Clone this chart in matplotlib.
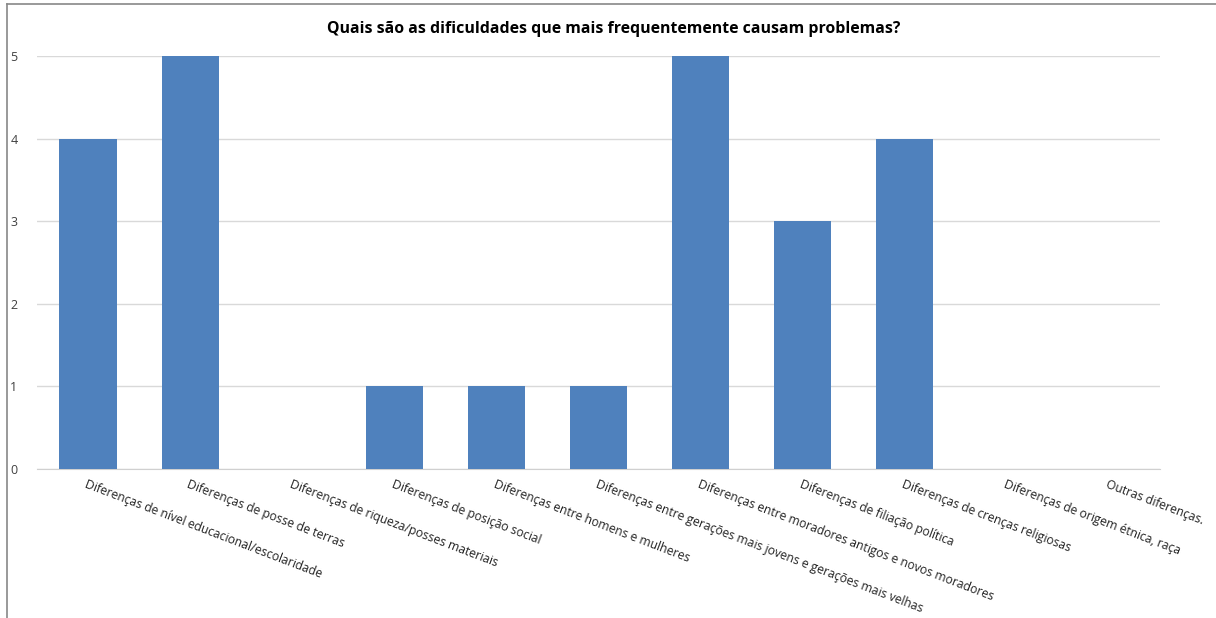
import matplotlib.pyplot as plt
from matplotlib.lines import Line2D

categories = [
    'Diferenças de nível educacional/escolaridade',
    'Diferenças de posse de terras',
    'Diferenças de riqueza/posses materiais',
    'Diferenças de posição social',
    'Diferenças entre homens e mulheres',
    'Diferenças entre gerações mais jovens e gerações mais velhas',
    'Diferenças entre moradores antigos e novos moradores',
    'Diferenças de filiação política',
    'Diferenças de crenças religiosas',
    'Diferenças de origem étnica, raça',
    'Outras diferenças.',
]
counts = [4, 5, 0, 1, 1, 1, 5, 3, 4, 0, 0]
y_ticks = [0, 1, 2, 3, 4, 5]

plt.rcParams['font.family'] = ['Open Sans', 'DejaVu Sans']

fig = plt.figure(figsize=(12.16, 6.18), dpi=100)
ax = fig.add_axes([0.0304, 0.241, 0.9236, 0.668])

x = list(range(len(categories)))
ax.bar(x, counts, width=0.56, color='#4F81BD', zorder=3)

ax.set_xlim(-0.5, len(categories) - 0.5)
ax.set_ylim(0, 5)
ax.set_yticks(y_ticks)
ax.set_yticklabels([str(v) for v in y_ticks], fontsize=9, color='#404040')
ax.yaxis.grid(True, color='#D9D9D9', linewidth=1, zorder=0)
ax.tick_params(axis='y', length=0, pad=14)
ax.tick_params(axis='x', length=0, pad=6)

ax.set_xticks(x)
ax.set_xticklabels(categories, rotation=-21, ha='left', va='top',
                   rotation_mode='anchor', fontsize=8.7, color='#222222')

for side in ['top', 'right', 'left']:
    ax.spines[side].set_visible(False)
ax.spines['bottom'].set_color('#D0D0D0')

fig.text(0.505, 0.953, 'Quais são as dificuldades que mais frequentemente causam problemas?',
         ha='center', va='center', fontsize=11.4, fontweight='bold', color='#000000')

# outer frame, left and top only
fig.add_artist(Line2D([7 / 1216, 7 / 1216], [0, 1 - 4 / 618], color='#888888', linewidth=1.2))
fig.add_artist(Line2D([7 / 1216, 1], [1 - 4 / 618, 1 - 4 / 618], color='#888888', linewidth=1.2))

fig.savefig('out.png', dpi=100)
